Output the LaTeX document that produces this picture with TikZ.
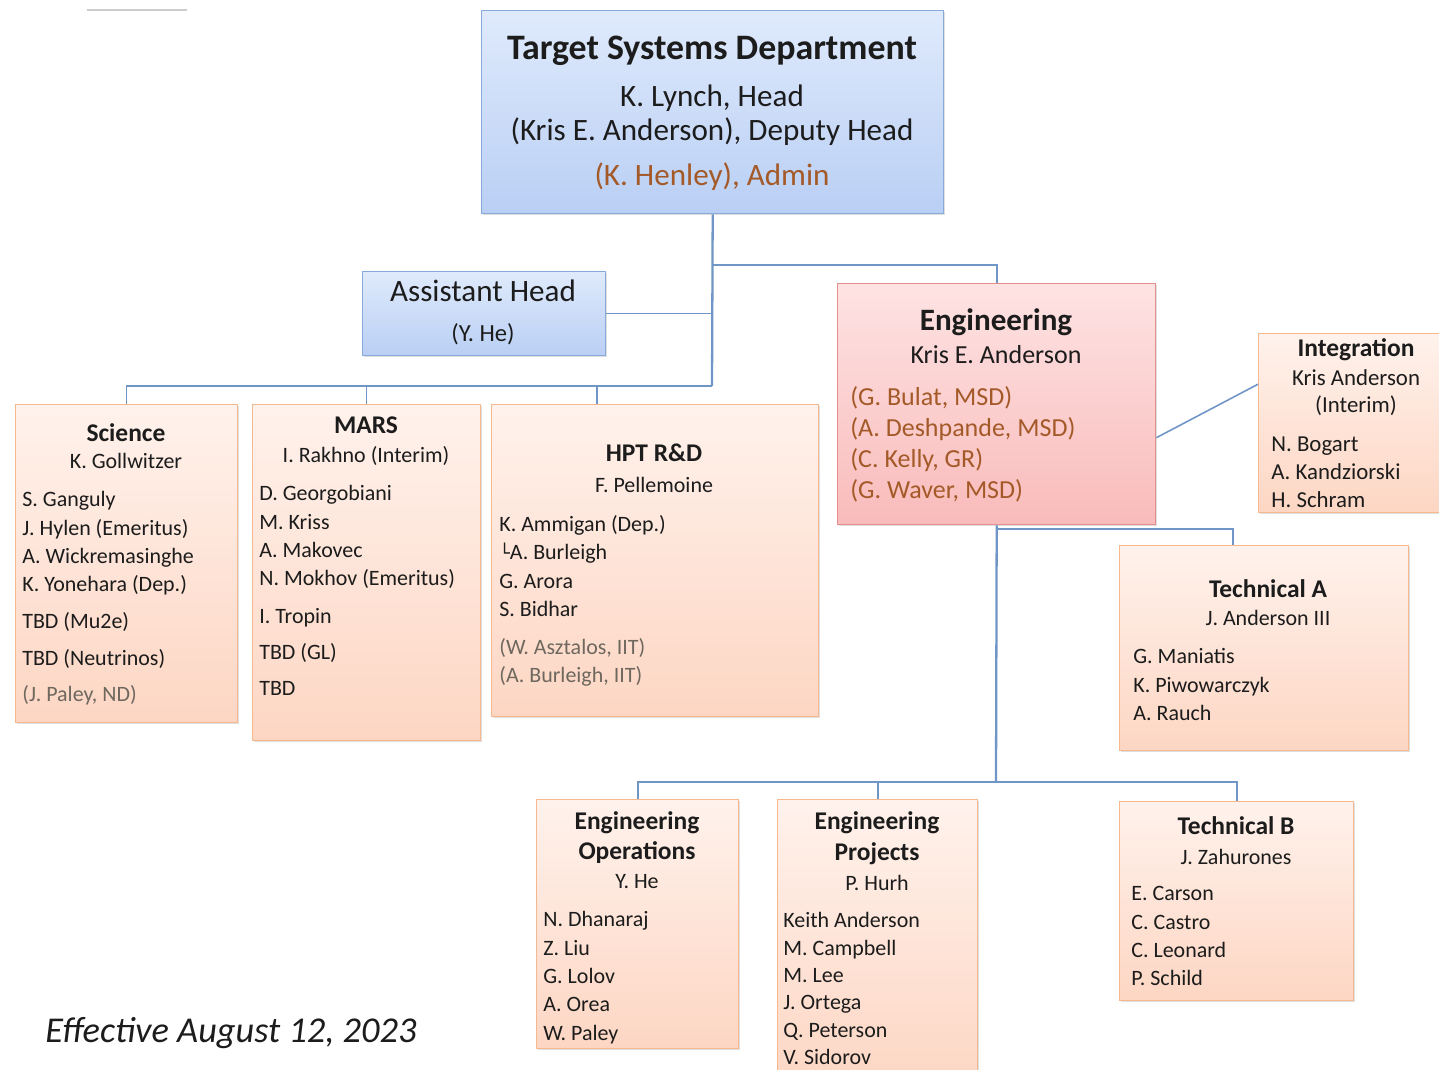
\documentclass[tikz,border=0pt]{standalone}
\usepackage{fontspec}
\setmainfont{Carlito}
\newfontfamily\boxsym{DejaVu Sans}
\usepackage{tikz}
\usetikzlibrary{positioning,shadows}

\definecolor{linkblue}{HTML}{7096C8}
\definecolor{blueedge}{HTML}{88AADA}
\definecolor{bluetop}{HTML}{DFEAFC}
\definecolor{bluebot}{HTML}{B9CFF4}
\definecolor{pinkedge}{HTML}{E58E8E}
\definecolor{pinktop}{HTML}{FEE3E3}
\definecolor{pinkbot}{HTML}{F9BBBB}
\definecolor{peachedge}{HTML}{F6B88E}
\definecolor{peachtop}{HTML}{FFF2EC}
\definecolor{peachbot}{HTML}{FDD6C3}
\definecolor{admintext}{HTML}{A45A28}
\definecolor{greytext}{HTML}{6E685F}
\definecolor{bodytext}{HTML}{1C1C1C}

\tikzset{dims/.style 2 args={minimum width=#1*0.02cm, minimum height=#2*0.02cm}}

\begin{document}
\begin{tikzpicture}[x=0.02cm, y=-0.02cm,
		every node/.style={inner sep=0pt, text=bodytext},
		unit/.style={draw, rectangle, anchor=north west, line width=0.8pt,
			drop shadow={opacity=0.25, shadow xshift=0.9pt, shadow yshift=-0.9pt}},
		dept/.style={unit, draw=blueedge, top color=bluetop, bottom color=bluebot},
		engbox/.style={unit, draw=pinkedge, top color=pinktop, bottom color=pinkbot},
		group/.style={unit, draw=peachedge, top color=peachtop, bottom color=peachbot},
		bigline/.style={anchor=base, font=\fontsize{17.7}{19.3}\selectfont},
		grouphead/.style={anchor=base, font=\fontsize{14.5}{17.5}\selectfont\bfseries},
		leader/.style={anchor=base, font=\fontsize{12.5}{16.2}\selectfont},
		members/.style={anchor=north west, align=left, font=\fontsize{12.5}{16.2}\selectfont},
		link/.style={draw=linkblue, line width=0.9pt},
		trunk/.style={link, line width=1.3pt}]
	\useasboundingbox (0,0) rectangle (1439,1070);
	\draw[line width=1pt, black!20] (87,10) -- (187,10);
	
	% department head
	\node[dept, dims={462}{203}] (top) at (481,10) {};
	\node[bigline, font=\fontsize{20.4}{24}\selectfont\bfseries] (toptitle) at (712,60) {Target Systems Department};
	\node[bigline] (tophead) at (712,107) {K. Lynch, Head};
	\node[bigline] (topdeputy) at (712,141) {(Kris E. Anderson), Deputy Head};
	\node[bigline, text=admintext] (topadmin) at (712,186) {(K. Henley), Admin};
	
	\node[dept, dims={243}{84}] (asst) at (362,271) {};
	\node[bigline] (assttitle) at (483,302) {Assistant Head};
	\node[anchor=base, font=\fontsize{14}{17}\selectfont] (asstname) at (483,342) {(Y. He)};
	
	% engineering
	\node[engbox, dims={318}{241}] (eng) at (837,283) {};
	\node[bigline, font=\fontsize{17.7}{19.3}\selectfont\bfseries] (engtitle) at (996,331) {Engineering};
	\node[anchor=base, font=\fontsize{14.8}{17.6}\selectfont] (englead) at (996,364) {Kris E. Anderson};
	\node[members, font=\fontsize{14.8}{17.6}\selectfont, text=admintext] (englist) at (850,386)
		{(G. Bulat, MSD)\\(A. Deshpande, MSD)\\(C. Kelly, GR)\\(G. Waver, MSD)};
	
	\node[group, dims={190}{179}] (integ) at (1258,333) {};
	\node[grouphead] (integtitle) at (1356,357) {Integration};
	\node[leader, font=\fontsize{13}{16.2}\selectfont] (integlead) at (1356,386) {Kris Anderson};
	\node[leader, font=\fontsize{13}{16.2}\selectfont] (integnote) at (1356,413) {(Interim)};
	\node[members, font=\fontsize{13}{16.2}\selectfont] (integlist) at (1271,436)
		{N. Bogart\\A. Kandziorski\\H. Schram};
	
	% groups under the head
	\node[group, dims={222}{318}] (sci) at (15,404) {};
	\node[grouphead] (scititle) at (126,442) {Science};
	\node[leader] (scilead) at (126,469) {K. Gollwitzer};
	\node[members] (scilist) at (22,491)
		{S. Ganguly\\J. Hylen (Emeritus)\\A. Wickremasinghe\\K. Yonehara (Dep.)\\[4.5pt]
		TBD (Mu2e)\\[5pt]TBD (Neutrinos)\\[4.5pt]\textcolor{greytext}{(J. Paley, ND)}};
	
	\node[group, dims={228}{336}] (mars) at (252,404) {};
	\node[grouphead] (marstitle) at (366,434) {MARS};
	\node[leader] (marslead) at (366,463) {I. Rakhno (Interim)};
	\node[members] (marslist) at (259,485)
		{D. Georgobiani\\M. Kriss\\A. Makovec\\N. Mokhov (Emeritus)\\[5pt]
		I. Tropin\\[4.5pt]TBD (GL)\\[4.5pt]TBD};
	
	\node[group, dims={327}{312}] (hpt) at (491,404) {};
	\node[grouphead] (hpttitle) at (654,462) {HPT R\&D};
	\node[leader] (hptlead) at (654,493) {F. Pellemoine};
	\node[members] (hptlist) at (499,515)
		{K. Ammigan (Dep.)\\{\boxsym\fontsize{10}{10}\selectfont └}A. Burleigh\\G. Arora\\S. Bidhar\\[5pt]
		\textcolor{greytext}{(W. Asztalos, IIT)}\\\textcolor{greytext}{(A. Burleigh, IIT)}};
	
	% groups under engineering
	\node[group, dims={289}{205}] (techa) at (1119,545) {};
	\node[grouphead] (techatitle) at (1268,597) {Technical A};
	\node[leader] (techalead) at (1268,625) {J. Anderson III};
	\node[members] (techalist) at (1133,648) {G. Maniatis\\K. Piwowarczyk\\A. Rauch};
	
	\node[group, dims={202}{249}] (engops) at (536,799) {};
	\node[grouphead] (engopstitle) at (637,829) {Engineering};
	\node[grouphead] (engopssub) at (637,859) {Operations};
	\node[leader] (engopslead) at (637,888) {Y. He};
	\node[members] (engopslist) at (543,911) {N. Dhanaraj\\Z. Liu\\G. Lolov\\A. Orea\\W. Paley};
	
	\node[group, dims={200}{290}] (engproj) at (777,799) {};
	\node[grouphead] (engprojtitle) at (877,829) {Engineering};
	\node[grouphead] (engprojsub) at (877,860) {Projects};
	\node[leader] (engprojlead) at (877,890) {P. Hurh};
	\node[members, font=\fontsize{12.5}{15.6}\selectfont] (engprojlist) at (783,912)
		{Keith Anderson\\M. Campbell\\M. Lee\\J. Ortega\\Q. Peterson\\V. Sidorov};
	
	\node[group, dims={234}{199}] (techb) at (1119,801) {};
	\node[grouphead] (techbtitle) at (1236,834) {Technical B};
	\node[leader] (techblead) at (1236,864) {J. Zahurones};
	\node[members] (techblist) at (1131,886) {E. Carson\\C. Castro\\C. Leonard\\P. Schild};
	
	% connectors
	\coordinate (busL) at (712,386);
	\coordinate (busE) at (712,265);
	\coordinate (busT) at (996,529);
	\coordinate (busB) at (996,782);
	\draw[trunk] (top.south) -- (busL);
	\draw[link] (busL) -| (sci.north);
	\draw[link] (busL) -| (mars.north);
	\draw[link] (busL) -| ([xshift=2.12cm]hpt.north west);
	\draw[link] (asst.east) -- (asst.east -| busL);
	\draw[link] (busE) -| (eng.north);
	\draw[trunk] (eng.south) -- (busB);
	\draw[link] (busT) -| ([xshift=2.28cm]techa.north west);
	\draw[link] (busB) -| (engops.north);
	\draw[link] (busB) -| (engproj.north);
	\draw[link] (busB) -| (techb.north);
	\draw[link] ([yshift=-0.67cm]eng.east) -- ([yshift=0.78cm]integ.west);
	
	\node[anchor=base west, font=\fontsize{20.7}{24}\selectfont\itshape] (effective) at (45,1042) {Effective August 12, 2023};
\end{tikzpicture}
\end{document}
